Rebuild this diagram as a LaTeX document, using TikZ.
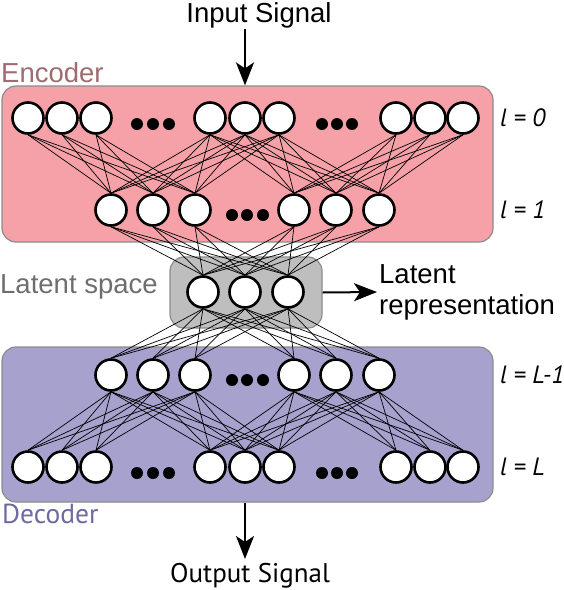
\documentclass[tikz,border=0pt]{standalone}
\usepackage{fontspec}
\setmainfont{Liberation Sans}
\newfontfamily\myriad{PT Sans}
\usetikzlibrary{arrows.meta}
\definecolor{encfill}{RGB}{245,161,167}
\definecolor{latfill}{RGB}{190,190,190}
\definecolor{decfill}{RGB}{166,161,205}
\definecolor{boxline}{RGB}{140,140,140}
\definecolor{enctext}{RGB}{158,107,112}
\definecolor{lattext}{RGB}{110,110,113}
\definecolor{dectext}{RGB}{108,106,158}

\begin{document}
\begin{tikzpicture}
[x=1pt,y=-1pt,
  neuron/.style={shape=circle,draw,fill=white,line width=2.6pt,minimum size=31pt,inner sep=0pt},
  link/.style={line width=0.7pt},
  box/.style={draw=boxline,line width=1.2pt,rounded corners=14pt,inner sep=0pt},
  sig/.style={-{Stealth[length=23pt,width=18pt,inset=6pt]},line width=2pt},
  big/.style={font=\fontsize{27.5}{31}\selectfont,inner sep=0pt},
  layer/.style={font=\myriad\itshape\fontsize{25}{28}\selectfont,anchor=west,inner sep=0pt}]
\useasboundingbox (0,0) rectangle (564,590);

\node[box,fill=encfill,minimum width=491pt,minimum height=156pt] (encbox) at (247.5,164) {};
\node[box,fill=latfill,minimum width=152pt,minimum height=71pt] (latbox) at (246,292.5) {};
\node[box,fill=decfill,minimum width=491pt,minimum height=155pt] (decbox) at (247.5,424.5) {};

\foreach \x [count=\i] in {28,62,96,210,245,279,396,430,463}
  \node[neuron] (inp\i) at (\x,118) {};
\foreach \x [count=\i] in {111,153,195,294,336,379}
  \node[neuron] (enc\i) at (\x,210) {};
\foreach \x [count=\i] in {203,245,288}
  \node[neuron] (lat\i) at (\x,292) {};
\foreach \x [count=\i] in {111,153,195,294,336,379}
  \node[neuron] (dec\i) at (\x,375) {};
\foreach \x [count=\i] in {28,62,96,210,245,279,396,430,463}
  \node[neuron] (out\i) at (\x,467) {};

\foreach \x in {137,153,169,322,337,352} {
  \fill (\x,124) circle (6pt);
  \fill (\x,473) circle (6pt);
}
\foreach \x in {232,247,263} {
  \fill (\x,215) circle (6pt);
  \fill (\x,380) circle (6pt);
}

\foreach \i in {1,...,6}
  \foreach \j in {1,2,3}
    \draw[link] (inp\i.south) -- (enc\j.north);
\foreach \i in {4,...,9}
  \foreach \j in {4,5,6}
    \draw[link] (inp\i.south) -- (enc\j.north);
\foreach \i in {1,...,6}
  \foreach \j in {1,2,3} {
    \draw[link] (enc\i.south) -- (lat\j.north);
    \draw[link] (lat\j.south) -- (dec\i.north);
  }
\foreach \i in {1,2,3}
  \foreach \j in {1,...,6}
    \draw[link] (dec\i.south) -- (out\j.north);
\foreach \i in {4,5,6}
  \foreach \j in {4,...,9}
    \draw[link] (dec\i.south) -- (out\j.north);

\node[big,anchor=base] (insig) at (259,22) {Input Signal};
\node[big,anchor=base west,text=enctext] (enclabel) at (1,82) {Encoder};
\node[big,anchor=base west,text=lattext] (latlabel) at (0,293) {Latent space};
\node[big,anchor=west,align=left] (latrep) at (379,292) {Latent\\representation};
\node[big,anchor=base west,font=\myriad\fontsize{27.5}{31}\selectfont,text=dectext] (declabel) at (2,523) {Decoder};
\node[big,anchor=base,font=\myriad\fontsize{27}{31}\selectfont] (outsig) at (250,582) {Output Signal};

\node[layer] (l0) at (500,118) {l = 0};
\node[layer] (l1) at (500,210) {l = 1};
\node[layer] (lm) at (500,375) {l = L-1};
\node[layer] (ll) at (500,467) {l = L};

\coordinate (intop) at (245,29);
\coordinate (outbot) at (245,559);
\coordinate (reptip) at (377,292);
\draw[sig] (intop) -- (intop |- encbox.north);
\draw[sig] (latbox.east) -- (reptip);
\draw[sig] (decbox.south -| outbot) -- (outbot);
\end{tikzpicture}
\end{document}
